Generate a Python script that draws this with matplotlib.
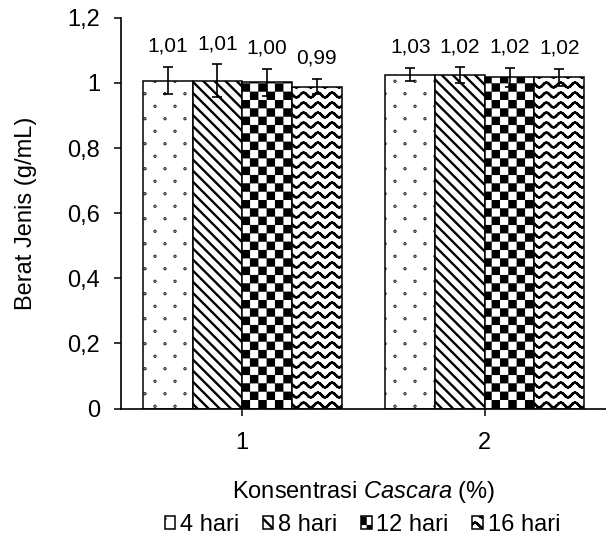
import numpy as np
import matplotlib
matplotlib.use("Agg")
import matplotlib.pyplot as plt
import matplotlib.hatch as mhatch
from matplotlib.path import Path

# data
categories = ["1", "2"]
series = ["4 hari", "8 hari", "12 hari", "16 hari"]
hari4 = [1.007, 1.026]
hari8 = [1.007, 1.024]
hari12 = [1.002, 1.017]
hari16 = [0.989, 1.017]
err4 = [0.042, 0.021]
err8 = [0.050, 0.024]
err12 = [0.042, 0.029]
err16 = [0.023, 0.026]
yticks = [0, 0.2, 0.4, 0.6, 0.8, 1.0, 1.2]
ytick_labels = ["0", "0,2", "0,4", "0,6", "0,8", "1", "1,2"]

values = [hari4, hari8, hari12, hari16]
errors = [err4, err8, err12, err16]


##### custom hatches: dots, checkerboard, waves #####
class DotHatch(mhatch.HatchPatternBase):
    def __init__(self, hatch, density):
        self.on = hatch.count('.') > 0
        self.cols, self.rows = 5, 8
        self.circle = Path.unit_circle()
        n = len(self.circle.vertices)
        self.num_vertices = self.cols * self.rows * n if self.on else 0

    def set_vertices_and_codes(self, vertices, codes):
        n = len(self.circle.vertices)
        cur = 0
        for j in range(self.rows):
            y = (j + 0.5) / self.rows
            shift = 0.5 if j % 2 else 0.0
            for i in range(self.cols):
                x = ((i + 0.25 + shift) / self.cols) % 1.0
                vertices[cur:cur + n] = self.circle.vertices * 0.004 + (x, y)
                codes[cur:cur + n] = self.circle.codes
                cur += n


class CheckerHatch(mhatch.HatchPatternBase):
    def __init__(self, hatch, density):
        self.on = hatch.count('+') > 0
        self.n = 12
        self.num_vertices = (self.n * self.n // 2) * 5 if self.on else 0

    def set_vertices_and_codes(self, vertices, codes):
        s = 1.0 / self.n
        d = 0.011
        cur = 0
        for j in range(self.n):
            for i in range(self.n):
                if (i + j) % 2:
                    continue
                x0, y0 = i * s + d, j * s + d
                x1, y1 = (i + 1) * s - d, (j + 1) * s - d
                vertices[cur:cur + 5] = [(x0, y0), (x1, y0), (x1, y1), (x0, y1), (x0, y0)]
                codes[cur:cur + 5] = [Path.MOVETO, Path.LINETO, Path.LINETO,
                                      Path.LINETO, Path.CLOSEPOLY]
                cur += 5


class WaveHatch(mhatch.HatchPatternBase):
    def __init__(self, hatch, density):
        self.on = hatch.count('-') > 0
        self.lines, self.periods, self.steps = 10, 7, 8
        self.num_vertices = self.lines * self.periods * self.steps * 2 if self.on else 0

    def set_vertices_and_codes(self, vertices, codes):
        nseg = self.periods * self.steps
        xs = np.linspace(0, 1, nseg + 1)
        amp = 0.024
        cur = 0
        for j in range(self.lines):
            y = (j + 0.5) / self.lines
            ys = y + amp * np.sin(2 * np.pi * self.periods * xs)
            for k in range(nseg):
                vertices[cur] = (xs[k], ys[k])
                vertices[cur + 1] = (xs[k + 1], ys[k + 1])
                codes[cur] = Path.MOVETO
                codes[cur + 1] = Path.LINETO
                cur += 2


mhatch._hatch_types = [DotHatch, mhatch.SouthEastHatch, CheckerHatch, WaveHatch]
hatches = ['.', '\\\\\\', '+', '-']

plt.rcParams['font.family'] = 'Liberation Sans'
plt.rcParams['mathtext.fontset'] = 'custom'
plt.rcParams['mathtext.rm'] = 'Liberation Sans'
plt.rcParams['mathtext.it'] = 'Liberation Sans:italic'
plt.rcParams['hatch.linewidth'] = 1.7
plt.rcParams['hatch.color'] = 'black'

fig = plt.figure(figsize=(6.06, 5.42), dpi=100)
ax = fig.add_axes([0.1997, 0.2463, 0.8003, 0.7207])

x = np.arange(len(categories))
w = 0.205
for i in range(len(series)):
    pos = x + (i - 1.5) * w
    ax.bar(pos, values[i], w, color='white', edgecolor='black', linewidth=1.1,
           hatch=hatches[i], label=series[i])
    ax.errorbar(pos, values[i], yerr=errors[i], fmt='none', ecolor='black',
                elinewidth=1.2, capsize=3.8, capthick=1.2)
    for xp, v, e in zip(pos, values[i], errors[i]):
        ax.annotate(f"{v:.2f}".replace('.', ','), xy=(xp, v + e), xytext=(0, 15),
                    textcoords='offset points', ha='center', va='center', fontsize=15)

ax.set_xlim(-0.5, 1.5)
ax.set_ylim(0, 1.2)
ax.set_yticks(yticks)
ax.set_yticklabels(ytick_labels)
ax.set_xticks(x)
ax.set_xticklabels(categories)
ax.tick_params(axis='y', length=5, width=1.1, pad=10, labelsize=17)
ax.tick_params(axis='x', length=5, width=1.1, pad=12, labelsize=17)
for s in ['top', 'right']:
    ax.spines[s].set_visible(False)
for s in ['left', 'bottom']:
    ax.spines[s].set_linewidth(1.2)

ax.set_ylabel('Berat Jenis (g/mL)', fontsize=17, labelpad=22)
ax.set_xlabel(r'Konsentrasi $\mathit{Cascara}$ (%)', fontsize=17, labelpad=18)

fig.legend(loc='center', bbox_to_anchor=(0.598, 0.031), ncol=4, frameon=False,
           fontsize=17, handlelength=0.45, handleheight=0.45, handletextpad=0.2,
           columnspacing=1.0)

plt.savefig('out.png', dpi=100)
